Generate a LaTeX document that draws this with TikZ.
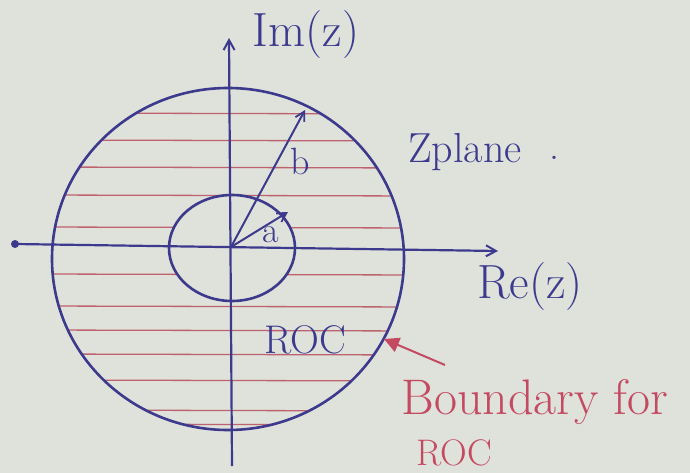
\documentclass[tikz,border=0pt]{standalone}
\usetikzlibrary{arrows.meta}
\definecolor{paper}{HTML}{DEE2DA}
\definecolor{ink}{HTML}{3D3A8E}
\definecolor{redink}{HTML}{C44A62}
\definecolor{hatchred}{HTML}{BE6270}
\begin{document}
\begin{tikzpicture}[x=1pt,y=-1pt,
  axis/.style={draw=ink,line width=2.2pt,-{Straight Barb[length=10pt,width=11pt,line width=2pt]}},
  ring/.style={draw=ink,line width=2.6pt},
  radius arrow/.style={draw=ink,line width=2pt,-{Straight Barb[length=9pt,width=10pt,line width=1.8pt]}},
  hatchline/.style={draw=hatchred,line width=1.3pt},
  inklabel/.style={text=ink,inner sep=0pt},
  redlabel/.style={text=redink,inner sep=0pt}]
\fill[paper] (0,0) rectangle (690,473);
\useasboundingbox (0,0) rectangle (690,473);

% hatching of the region of convergence
\begin{scope}[even odd rule]
  \clip (228,259) ellipse [x radius=175, y radius=170]
        (232,248) ellipse [x radius=63, y radius=53];
  \foreach \yy in {113,140,167,195,227,274,306,330,354,380,410,424}
    \draw[hatchline] (40,\yy) -- (420,\yy+1);
\end{scope}

% circles
\draw[ring] (228,259) ellipse [x radius=176, y radius=171];
\draw[ring] (232,248) ellipse [x radius=63, y radius=53];

% axes
\coordinate (O) at (231,247);
\coordinate (L) at (15,244);
\coordinate (R) at (498,251);
\coordinate (B) at (232,466);
\coordinate (T) at (229,38);
\draw[axis] (L) -- (R);
\draw[axis] (B) -- (T);
\fill[ink] (L) circle [radius=4];

% radii
\coordinate (Pb) at (305,110);
\coordinate (Pa) at (288,212);
\draw[radius arrow] (O) -- (Pb);
\draw[radius arrow] (O) -- (Pa);
\node[inklabel,font=\fontsize{38}{42}\selectfont] (lb) at (300,161) {b};
\node[inklabel,font=\fontsize{36}{40}\selectfont] (la) at (271,235) {a};

% labels
\node[inklabel,font=\fontsize{48}{52}\selectfont] (im) at (306,35) {Im(z)};
\node[inklabel,font=\fontsize{42}{46}\selectfont,anchor=west] (zp) at (408,152) {Zplane};
\node[inklabel,font=\fontsize{40}{44}\selectfont] (zdot) at (554,158) {.};
\node[inklabel,font=\fontsize{48}{52}\selectfont] (re) at (530,287) {Re(z)};
\node[inklabel,font=\fontsize{40}{44}\selectfont] (roc) at (305,340) {ROC};

% boundary annotation
\node[redlabel,font=\fontsize{50}{54}\selectfont] (bd) at (535,402) {Boundary for};
\node[redlabel,font=\fontsize{37}{40}\selectfont] (bdroc) at (454,453) {ROC};
\coordinate (tipb) at (384,339);
\coordinate (tailb) at (445,365);
\draw[draw=redink,line width=2pt,-{Triangle[length=15pt,width=15pt]}] (tailb) -- (tipb);
\end{tikzpicture}
\end{document}
